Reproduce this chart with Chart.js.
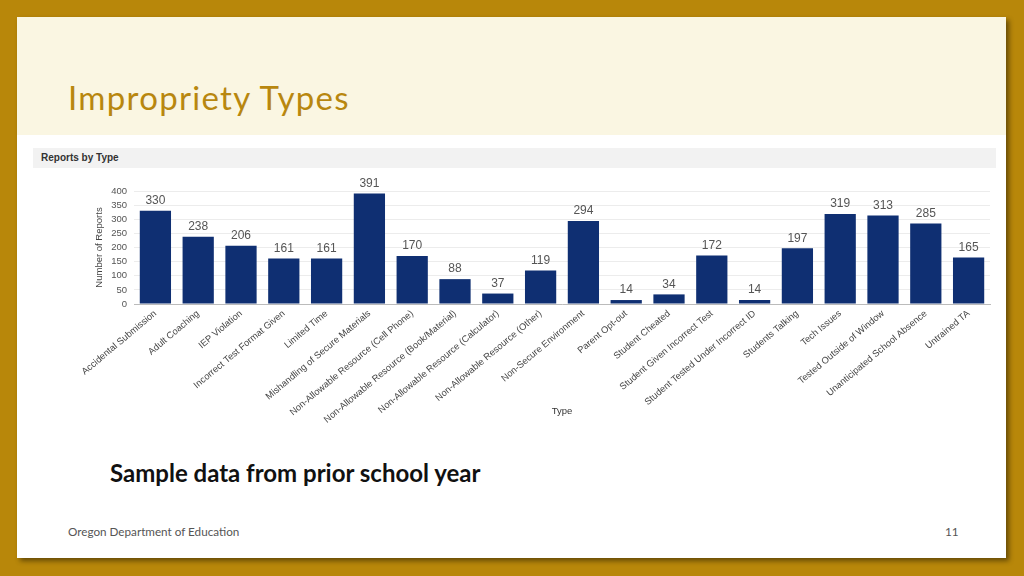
<!DOCTYPE html>
<html>
<head>
<meta charset="utf-8">
<script src="https://cdn.jsdelivr.net/npm/chart.js@4"></script>
<style>
  html, body { margin: 0; padding: 0; }
  body { width: 1024px; height: 576px; background: #b8870a; position: relative; overflow: hidden; font-family: Lato, "Open Sans", sans-serif; }
  #slide { position: absolute; left: 17px; top: 17px; width: 989px; height: 541px; background: #fff; box-shadow: 3px 3px 5px rgba(0,0,0,0.45); }
  #header { position: absolute; left: 0; top: 0; width: 989px; height: 118px; background: #faf6e2; }
  #title { position: absolute; left: 51px; top: 60px; font-size: 33px; letter-spacing: 1.3px; color: #b8870f; font-weight: 400; line-height: 40px; }
  #panelbar { position: absolute; left: 16px; top: 131px; width: 963px; height: 20px; background: #f2f2f2; }
  #panelbar span { position: absolute; left: 8px; top: 4px; font: bold 10px "Liberation Sans", Arial, sans-serif; color: #333; }
  #wrap { position: absolute; left: 16px; top: 155px; width: 963px; height: 280px; }
  #note { position: absolute; left: 93px; top: 441px; font-size: 24px; font-weight: bold; color: #111; line-height: 30px; }
  #footer { position: absolute; left: 51px; top: 507px; font-size: 11.7px; color: #555; }
  #pagenum { position: absolute; left: 928px; top: 507px; font-size: 11.7px; color: #555; }
</style>
</head>
<body>
<div id="slide">
  <div id="header"><div id="title">Impropriety Types</div></div>
  <div id="panelbar"><span>Reports by Type</span></div>
  <div id="wrap"><canvas id="mycanvas" width="963" height="270"></canvas></div>
  <div id="note">Sample data from prior school year</div>
  <div id="footer">Oregon Department of Education</div>
  <div id="pagenum">11</div>
</div>
<script>
var types = [
  'Accidental Submission', 'Adult Coaching', 'IEP Violation', 'Incorrect Test Format Given',
  'Limited Time', 'Mishandling of Secure Materials', 'Non-Allowable Resource (Cell Phone)',
  'Non-Allowable Resource (Book/Material)', 'Non-Allowable Resource (Calculator)',
  'Non-Allowable Resource (Other)', 'Non-Secure Environment', 'Parent Opt-out', 'Student Cheated',
  'Student Given Incorrect Test', 'Student Tested Under Incorrect ID', 'Students Talking',
  'Tech Issues', 'Tested Outside of Window', 'Unanticipated School Absence', 'Untrained TA'
];
var reports = [330, 238, 206, 161, 161, 391, 170, 88, 37, 119, 294, 14, 34, 172, 14, 197, 319, 313, 285, 165];

// values above the bars + the "Type" title (it sits between the long rotated labels)
var valueLabels = {
  id: 'valueLabels',
  afterDatasetsDraw: function(chart) {
    var ctx = chart.ctx;
    var meta = chart.getDatasetMeta(0);
    ctx.save();
    ctx.font = '12px "Liberation Sans", Arial, sans-serif';
    ctx.fillStyle = '#555';
    ctx.textAlign = 'center';
    ctx.textBaseline = 'bottom';
    meta.data.forEach(function(bar, i) {
      ctx.fillText(reports[i], bar.x, bar.y - 4);
    });
    var area = chart.chartArea;
    ctx.font = '9.5px "Liberation Sans", Arial, sans-serif';
    ctx.fillStyle = '#333';
    ctx.textBaseline = 'middle';
    ctx.fillText('Type', (area.left + area.right) / 2, chart.scales.x.top + 107);
    ctx.restore();
  }
};

var chartdata = {
  labels: types,
  datasets: [
    {
      label: 'Number of Reports',
      backgroundColor: '#0f2f72',
      data: reports,
      barPercentage: 0.73,
      categoryPercentage: 1.0
    }
  ]
};

var ctx = document.getElementById('mycanvas');
Chart.defaults.font.family = '"Liberation Sans", Arial, sans-serif';

var barGraph = new Chart(ctx, {
  type: 'bar',
  data: chartdata,
  plugins: [valueLabels],
  options: {
    responsive: false,
    animation: false,
    layout: { padding: { left: 51, right: 6, top: 19, bottom: 13 } },
    plugins: { legend: { display: false }, tooltip: { enabled: false } },
    scales: {
      x: {
        grid: { display: false },
        border: { color: '#bbb' },
        ticks: { color: '#444', font: { size: 9.4 }, maxRotation: 40, minRotation: 40, autoSkip: false, padding: -4 },
        afterFit: function(scale) { scale.height = 125; }
      },
      y: {
        min: 0, max: 400,
        grid: { color: '#ececec', drawTicks: false },
        border: { display: false },
        ticks: { stepSize: 50, autoSkip: false, color: '#555', font: { size: 9.5 }, padding: 7 },
        title: { display: true, text: 'Number of Reports', color: '#444', font: { size: 9.5 }, padding: { top: 10, bottom: 2 } },
        afterFit: function(scale) { scale.width = 50; }
      }
    }
  }
});
</script>
</body>
</html>
